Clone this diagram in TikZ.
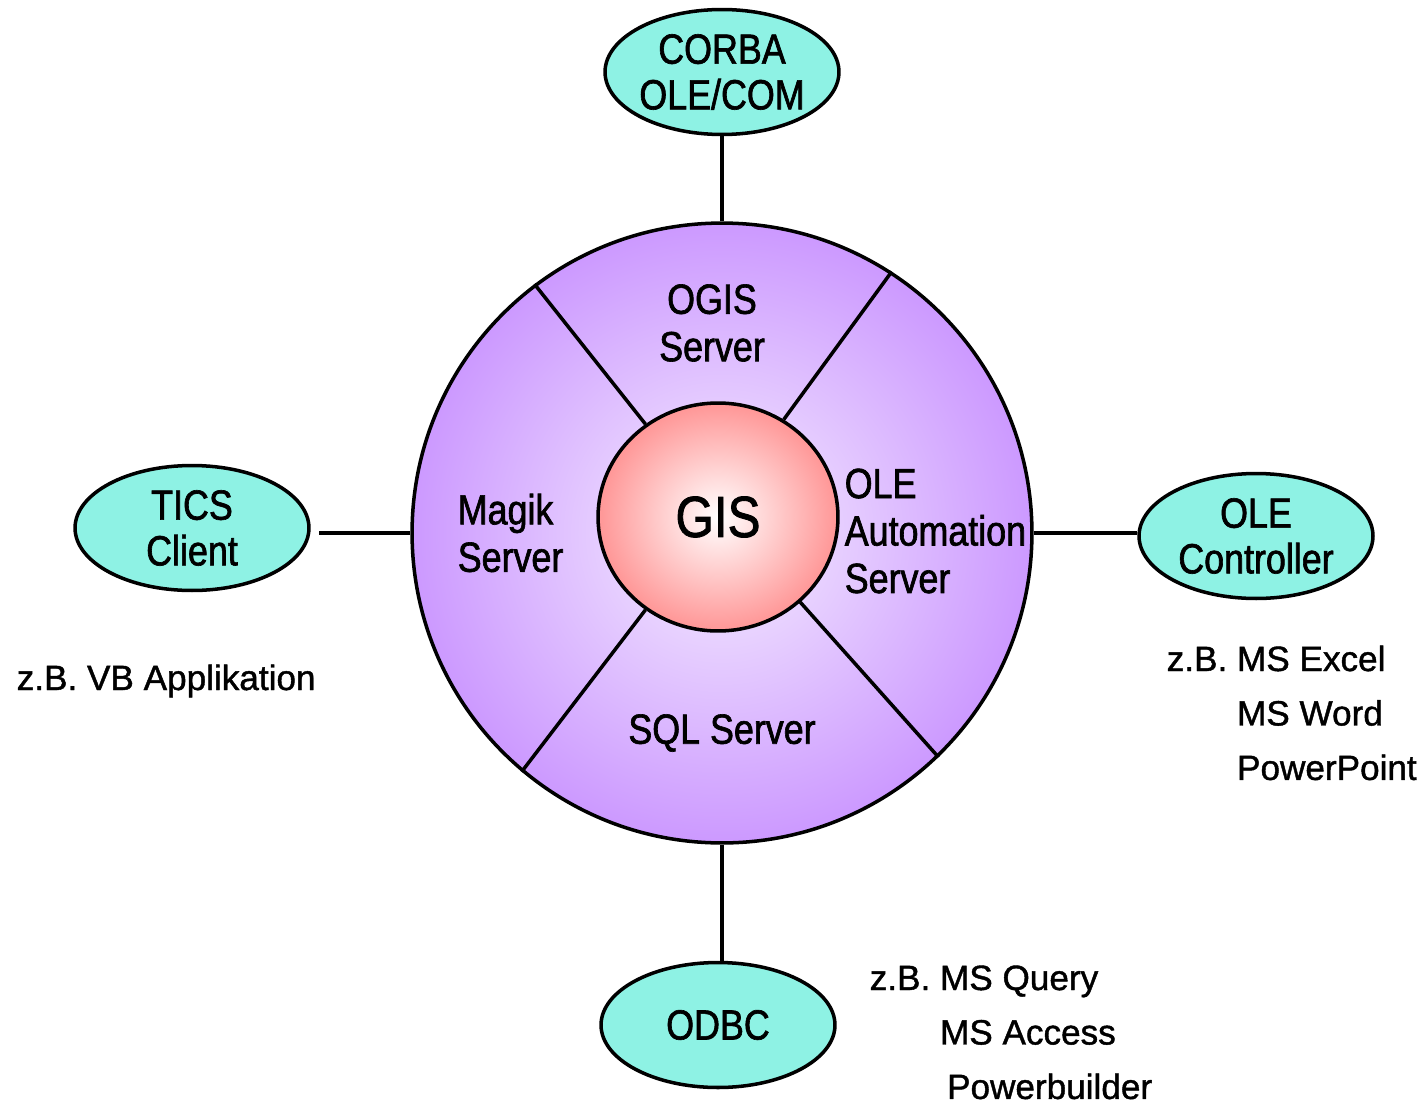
\documentclass[tikz,border=0pt]{standalone}
\usepackage{fontspec}
\setmainfont{Liberation Sans}[FakeBold=1.2]
\newfontfamily\narrowfont{Liberation Sans}[FakeStretch=0.85, FakeBold=1.5]
\usepackage{tikz}
\usetikzlibrary{shapes.geometric}

\definecolor{clientcyan}{RGB}{142,242,228}
\definecolor{ringedge}{RGB}{204,153,255}
\definecolor{ringcenter}{RGB}{246,238,255}
\definecolor{gisedge}{RGB}{255,150,150}

\begin{document}
\begin{tikzpicture}[
            x=0.02cm, y=-0.02cm, % one unit per pixel of the sketch
            line width=2pt,
            client/.style={ellipse, draw, fill=clientcyan, minimum width=4.68cm, minimum height=2.5cm, inner sep=0pt, align=center, font=\narrowfont\fontsize{24}{26}\selectfont}, % outer programs
            servertext/.style={inner sep=0pt, font=\narrowfont\fontsize{24}{27}\selectfont}, % labels inside the ring
            usage/.style={inner sep=0pt, anchor=base west, font=\fontsize{20}{31}\selectfont} % example applications
            ]
        \useasboundingbox (0,0) rectangle (1426,1105);

                % Ring of servers around the GIS core
                \node[circle, draw, minimum size=12.4cm, inner color=ringcenter, outer color=ringedge] (ring) at (722,533) {};
                \node[ellipse, draw, minimum width=4.8cm, minimum height=4.56cm, inner sep=0pt, inner color=white, outer color=gisedge, font=\narrowfont\fontsize{33}{36}\selectfont] (gis) at (718,517) {GIS};

                % Spokes between the servers
                \draw (gis.128) -- (ring.127);
                \draw (gis.56) -- (ring.57);
                \draw (gis.232) -- (ring.230);
                \draw (gis.-46) -- (ring.-46);

                \node[servertext, align=center] (ogis) at (712,323) {OGIS\\Server};
                \node[servertext, align=left, anchor=west] (magik) at (456,533) {Magik\\Server};
                \node[servertext, align=left, anchor=west] (oleauto) at (843,531) {OLE\\Automation\\Server};
                \node[servertext] (sql) at (722,733) {SQL Server};

                % Clients
                \node[client] (corba) at (722,72) {CORBA\\OLE/COM};
                \node[client] (tics) at (192,528) {TICS\\Client};
                \node[client] (olectrl) at (1256,536) {OLE\\Controller};
                \node[client] (odbc) at (718,1025) {ODBC};

                \draw (corba.south) -- (ring.north);
                \draw (ring.west) -- ([xshift=0.16cm]ring.west -| tics.east);
                \draw (ring.east) -- (ring.east -| olectrl.west);
                \draw (ring.south) -- (ring.south |- odbc.north);

                % Examples
                \node[usage] (vbapp) at (15,690) {z.B. VB Applikation};
                \node[usage] (office) at (1165,671) {\begin{tabular}[t]{@{}l@{\ }l@{}}z.B. & MS Excel\\ & MS Word\\ & PowerPoint\end{tabular}};
                \node[usage] (query) at (868,990) {\begin{tabular}[t]{@{}l@{\ }l@{}}z.B. & MS Query\\ & MS Access\\ & \hspace{4pt}Powerbuilder\end{tabular}};

            \end{tikzpicture}
\end{document}
